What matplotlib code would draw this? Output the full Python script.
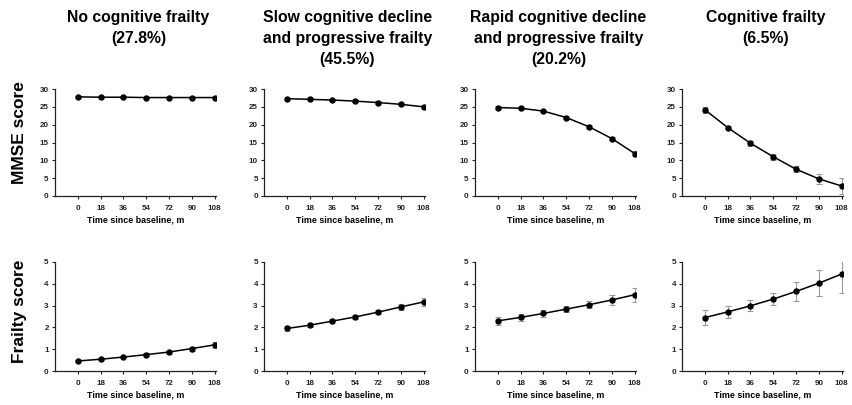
import matplotlib
import numpy as np

matplotlib.use("Agg")
import matplotlib.pyplot as plt


MONTHS = [0, 18, 36, 54, 72, 90, 108]

TITLES = [
    "No cognitive frailty\n(27.8%)",
    "Slow cognitive decline\nand progressive frailty\n(45.5%)",
    "Rapid cognitive decline\nand progressive frailty\n(20.2%)",
    "Cognitive frailty\n(6.5%)",
]

MMSE = [
    [27.8, 27.7, 27.7, 27.6, 27.6, 27.6, 27.6],
    [27.3, 27.1, 26.9, 26.6, 26.2, 25.7, 25.0],
    [24.8, 24.6, 23.8, 22.0, 19.4, 16.1, 11.9],
    [24.2, 19.2, 14.8, 11.0, 7.5, 4.8, 2.8],
]
MMSE_ERR = [
    [0.2, 0.2, 0.2, 0.2, 0.2, 0.2, 0.2],
    [0.3, 0.3, 0.3, 0.3, 0.3, 0.3, 0.4],
    [0.3, 0.3, 0.3, 0.3, 0.4, 0.5, 0.8],
    [0.8, 0.5, 0.7, 0.8, 0.8, 1.3, 2.3],
]

FRAILTY = [
    [0.46, 0.54, 0.64, 0.75, 0.87, 1.03, 1.20],
    [1.95, 2.10, 2.29, 2.48, 2.70, 2.94, 3.17],
    [2.30, 2.46, 2.64, 2.84, 3.04, 3.26, 3.50],
    [2.45, 2.71, 2.99, 3.30, 3.65, 4.03, 4.45],
]
FRAILTY_ERR = [
    [0.05, 0.05, 0.05, 0.06, 0.07, 0.09, 0.14],
    [0.10, 0.09, 0.09, 0.09, 0.10, 0.13, 0.18],
    [0.20, 0.16, 0.14, 0.12, 0.15, 0.23, 0.32],
    [0.35, 0.29, 0.25, 0.29, 0.42, 0.60, 0.88],
]

plt.rcParams["font.family"] = ["Liberation Sans", "DejaVu Sans"]

W, H = 852, 405
fig = plt.figure(figsize=(W / 100, H / 100), dpi=100, facecolor="white")

lefts = [55, 264, 475, 682]
axw = 161


def make_axes(left_px, top_px, bottom_px):
    return fig.add_axes([left_px / W, 1 - bottom_px / H, axw / W, (bottom_px - top_px) / H])


def style_axes(ax, ymax, ystep):
    ax.set_xlim(-18, 109)
    ax.set_ylim(0, ymax)
    ax.set_xticks(MONTHS)
    ax.set_yticks(np.arange(0, ymax + 0.1, ystep))
    for side in ["top", "right"]:
        ax.spines[side].set_visible(False)
    for side in ["left", "bottom"]:
        ax.spines[side].set_linewidth(0.9)
        ax.spines[side].set_color("#222222")
    ax.tick_params(length=2.5, width=0.8, labelsize=5.8, pad=2, colors="#222222")
    ax.tick_params(axis="x", pad=4)
    for lab in ax.get_xticklabels() + ax.get_yticklabels():
        lab.set_fontweight("bold")
    ax.set_xlabel("Time since baseline, m", fontsize=6.4, fontweight="bold", labelpad=2.5)
    ax.patch.set_visible(False)


def draw_series(ax, y, err):
    ax.errorbar(
        MONTHS, y, yerr=err,
        fmt="none", ecolor="#999999", elinewidth=0.8, capsize=2, capthick=0.8, zorder=2,
    )
    ax.plot(MONTHS, y, color="black", lw=1.1, marker="o", ms=3.6, zorder=3)


for i in range(4):
    ax_top = make_axes(lefts[i], 89, 196)
    draw_series(ax_top, MMSE[i], MMSE_ERR[i])
    style_axes(ax_top, 30, 5)

    ax_bot = make_axes(lefts[i], 262, 371)
    draw_series(ax_bot, FRAILTY[i], FRAILTY_ERR[i])
    style_axes(ax_bot, 5, 1)

    cx = (lefts[i] + axw / 2 + 3) / W
    fig.text(cx, 1 - 10 / H, TITLES[i], ha="center", va="top",
             fontsize=11.3, fontweight="bold", linespacing=1.5)

fig.text(20 / W, 1 - 133 / H, "MMSE score", rotation=90, ha="center", va="center",
         fontsize=12.5, fontweight="bold")
fig.text(20 / W, 1 - 311 / H, "Frailty score", rotation=90, ha="center", va="center",
         fontsize=12.5, fontweight="bold")

fig.savefig("out.png", dpi=100, facecolor="white")
